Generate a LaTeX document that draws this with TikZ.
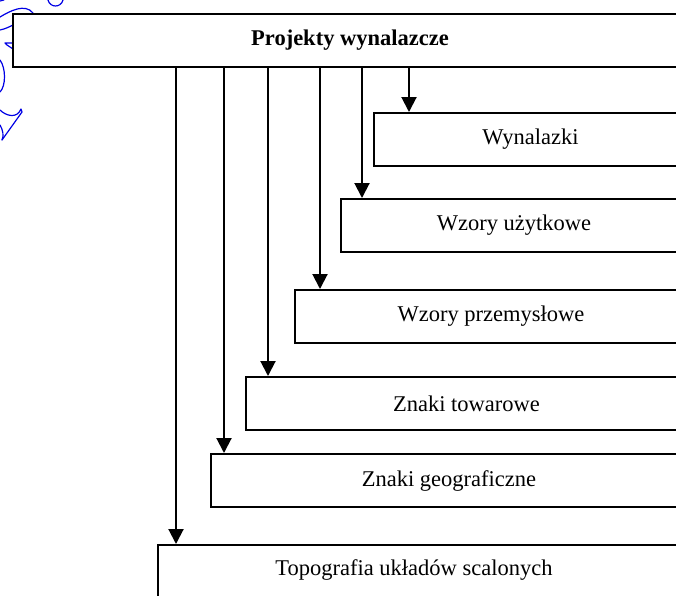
\documentclass[tikz,border=0pt]{standalone}
\usepackage{fontspec}
\setmainfont{Liberation Serif}
\usetikzlibrary{arrows.meta}
\begin{document}
\begin{tikzpicture}[x=1pt,y=-1pt,
  box/.style={draw, line width=2pt, rectangle, anchor=north west,
    minimum height=53pt, inner sep=0pt, font=\fontsize{22.5}{26}\selectfont},
  arr/.style={line width=2pt, -{Triangle[width=15pt,length=15pt]}},
  ink/.style={draw=blue!90!black, line width=1.2pt, line cap=round, line join=round}]
\useasboundingbox (0,0) rectangle (676,595);
\clip (0,0) rectangle (676,595);

% pen marks in the upper left corner
\draw[ink] (48,0) .. controls (50,8) and (61,8) .. (63,0);
\draw[ink] (0,1) -- (4,0);
\draw[ink] (0,17) .. controls (10,11) and (25,3) .. (33,13);
\draw[ink] (0,30) .. controls (5,29) and (9,27) .. (13,25);
\draw[ink] (13,43) -- (5,43) -- (7,45) -- (13,49);
\draw[ink] (0,60) .. controls (6,68) and (6,86) .. (0,92);
\draw[ink] (0,110) .. controls (6,116) and (17,119) .. (21,109) -- (22,112) -- (2,140);
\draw[ink] (0,125) .. controls (3,130) and (4,136) .. (2,140);

% boxes (the right edges run past the page)
\node[box, minimum width=674pt, font=\bfseries\fontsize{22.5}{26}\selectfont] (top) at (12,13) {Projekty wynalazcze};
\node[box, minimum width=313pt] (wyn) at (373,112) {Wynalazki};
\node[box, minimum width=346pt] (wu)  at (340,198) {Wzory użytkowe};
\node[box, minimum width=392pt] (wp)  at (294,289) {Wzory przemysłowe};
\node[box, minimum width=441pt] (zt)  at (245,376) {Znaki towarowe};
\node[box, minimum width=476pt] (zg)  at (210,453) {Znaki geograficzne};
\node[box, minimum width=529pt] (topo) at (157,544) {};
\node[font=\fontsize{22.5}{26}\selectfont, inner sep=0pt] (topotxt) at (414,570) {Topografia układów scalonych};

% arrows from the main box
\draw[arr] ([xshift=36pt]wyn.north west |- top.south) -- ([xshift=36pt]wyn.north west);
\draw[arr] ([xshift=22pt]wu.north west |- top.south) -- ([xshift=22pt]wu.north west);
\draw[arr] ([xshift=26pt]wp.north west |- top.south) -- ([xshift=26pt]wp.north west);
\draw[arr] ([xshift=23pt]zt.north west |- top.south) -- ([xshift=23pt]zt.north west);
\draw[arr] ([xshift=14pt]zg.north west |- top.south) -- ([xshift=14pt]zg.north west);
\draw[arr] ([xshift=19pt]topo.north west |- top.south) -- ([xshift=19pt]topo.north west);
\end{tikzpicture}
\end{document}
